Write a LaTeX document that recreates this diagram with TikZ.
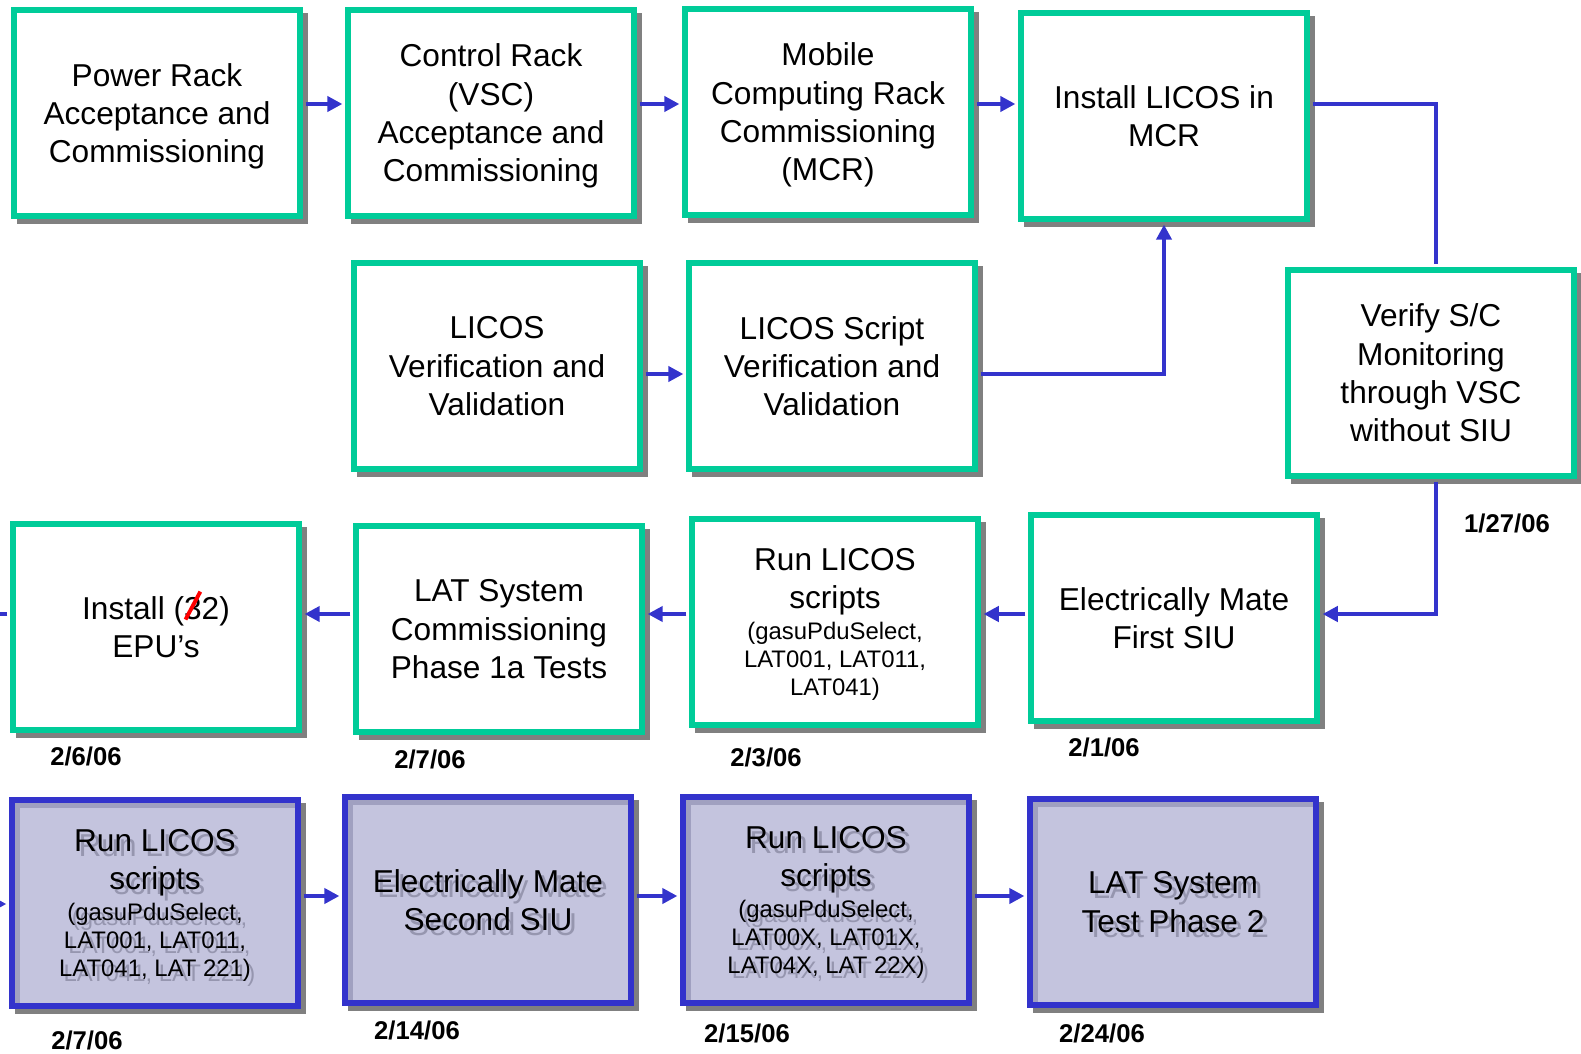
\documentclass[tikz,border=0pt]{standalone}
\usepackage{fontspec}
\usepackage{graphicx}
\setmainfont{Liberation Sans}
\usetikzlibrary{arrows.meta,shadows}

\definecolor{licgreen}{RGB}{0,204,153}
\definecolor{licblue}{RGB}{51,51,204}
\definecolor{lavender}{RGB}{196,196,222}
\definecolor{bevelcol}{RGB}{160,160,192}
\definecolor{ghostcol}{RGB}{150,150,175}
\definecolor{shadowgray}{RGB}{128,128,128}

\newcommand{\smalltxt}{\fontsize{6.8}{8.05}\selectfont}
\newcommand{\struck}[1]{\ooalign{#1\cr\hidewidth\raisebox{-0.6pt}{\textcolor{red}{\rotatebox[origin=c]{-28}{\rule{1.1pt}{9pt}}}}\hidewidth\cr}}

\begin{document}
\begin{tikzpicture}[x=0.1mm,y=-0.1mm,
	box/.style={draw=licgreen, fill=white, line width=1.6pt, minimum width=28.6mm, minimum height=20.6mm,
		align=center, inner sep=0pt, text depth=0pt, font=\fontsize{9}{10.9}\selectfont,
		drop shadow={shadow xshift=0.55mm, shadow yshift=-0.55mm, fill=shadowgray, draw=shadowgray, opacity=1}},
	ghost/.style={draw=none, fill=none, text=ghostcol, align=center, inner sep=0pt, text depth=0pt, font=\fontsize{9}{10.9}\selectfont},
	bluebox/.style={box, draw=licblue, fill=lavender,
		path picture={
			\fill[bevelcol] (path picture bounding box.north west) rectangle ([yshift=-2.2pt]path picture bounding box.north east);
			\fill[bevelcol] (path picture bounding box.north west) rectangle ([xshift=2.2pt]path picture bounding box.south west);
			\node[ghost] at ([shift={(0.45mm,-0.5mm)}]path picture bounding box.center) {#1};
		},
		node contents={#1}},
	conn/.style={draw=licblue, line width=1.15pt, shorten >=0.8pt, shorten <=0.8pt},
	arr/.style={conn, -{Triangle[length=4.3pt,width=4.3pt]}},
	date/.style={font=\fontsize{7.3}{8.8}\selectfont\bfseries, inner sep=0pt}]
	\useasboundingbox (0,0) rectangle (1581,1053);
	% heights of the connectors
	\coordinate (r1) at (0,104);
	\coordinate (r2) at (0,374);
	\coordinate (r3) at (0,614);
	\coordinate (r4) at (0,896);
	\coordinate (r4in) at (0,904);
	\coordinate (lft) at (-30,0);
	% row 1
	\node[box] (A) at (157,113) {Power Rack\\Acceptance and\\Commissioning};
	\node[box] (B) at (491,113) {Control Rack\\(VSC)\\Acceptance and\\Commissioning};
	\node[box] (C) at (828,112) {Mobile\\Computing Rack\\Commissioning\\(MCR)};
	\node[box] (D) at (1164,116) {Install LICOS in\\MCR};
	% row 2
	\node[box] (E) at (497,366) {LICOS\\Verification and\\Validation};
	\node[box] (F) at (832,366) {LICOS Script\\Verification and\\Validation};
	\node[box] (G) at (1431,373) {Verify S/C\\Monitoring\\through VSC\\without SIU};
	% row 3
	\node[box] (H) at (1174,618) {Electrically Mate\\First SIU};
	\node[box] (I) at (835,622) {Run LICOS\\scripts\\[-2.1pt]\smalltxt (gasuPduSelect,\\[-2.85pt]\smalltxt LAT001, LAT011,\\[-2.85pt]\smalltxt LAT041)};
	\node[box] (J) at (499,629) {LAT System\\Commissioning\\Phase 1a Tests};
	\node[box] (K) at (156,627) {Install (\struck{3}2)\\EPU’s};
	% row 4
	\node (L) at (155,903) [bluebox={Run LICOS\\scripts\\[-2.1pt]\smalltxt (gasuPduSelect,\\[-2.85pt]\smalltxt LAT001, LAT011,\\[-2.85pt]\smalltxt LAT041, LAT 221)}];
	\node (M) at (488,900) [bluebox={Electrically Mate\\Second SIU}];
	\node (N) at (826,900) [bluebox={Run LICOS\\scripts\\[-2.1pt]\smalltxt (gasuPduSelect,\\[-2.85pt]\smalltxt LAT00X, LAT01X,\\[-2.85pt]\smalltxt LAT04X, LAT 22X)}];
	\node (O) at (1173,902) [bluebox={LAT System\\Test Phase 2}];
	% dates
	\node[date] (d1) at (1507,523) {1/27/06};
	\node[date] (d2) at (1104,747) {2/1/06};
	\node[date] (d3) at (766,757) {2/3/06};
	\node[date] (d4) at (430,759) {2/7/06};
	\node[date] (d5) at (86,756) {2/6/06};
	\node[date] (d6) at (87,1040) {2/7/06};
	\node[date] (d7) at (417,1030) {2/14/06};
	\node[date] (d8) at (747,1033) {2/15/06};
	\node[date] (d9) at (1102,1033) {2/24/06};
	% connectors
	\draw[arr] (A.east |- r1) -- (B.west |- r1);
	\draw[arr] (B.east |- r1) -- (C.west |- r1);
	\draw[arr] (C.east |- r1) -- (D.west |- r1);
	\draw[conn] (D.east |- r1) -| ([xshift=0.5mm]G.north);
	\draw[arr] (E.east |- r2) -- (F.west |- r2);
	\draw[arr] (F.east |- r2) -| (D.south);
	\draw[arr] ([xshift=0.5mm]G.south) |- (H.east |- r3);
	\draw[arr] (H.west |- r3) -- (I.east |- r3);
	\draw[arr] (I.west |- r3) -- (J.east |- r3);
	\draw[arr] (J.west |- r3) -- (K.east |- r3);
	\draw[arr] (K.west |- r3) -- (lft |- r3) |- (L.west |- r4in);
	\draw[arr] (L.east |- r4) -- (M.west |- r4);
	\draw[arr] (M.east |- r4) -- (N.west |- r4);
	\draw[arr] (N.east |- r4) -- (O.west |- r4);
\end{tikzpicture}
\end{document}
